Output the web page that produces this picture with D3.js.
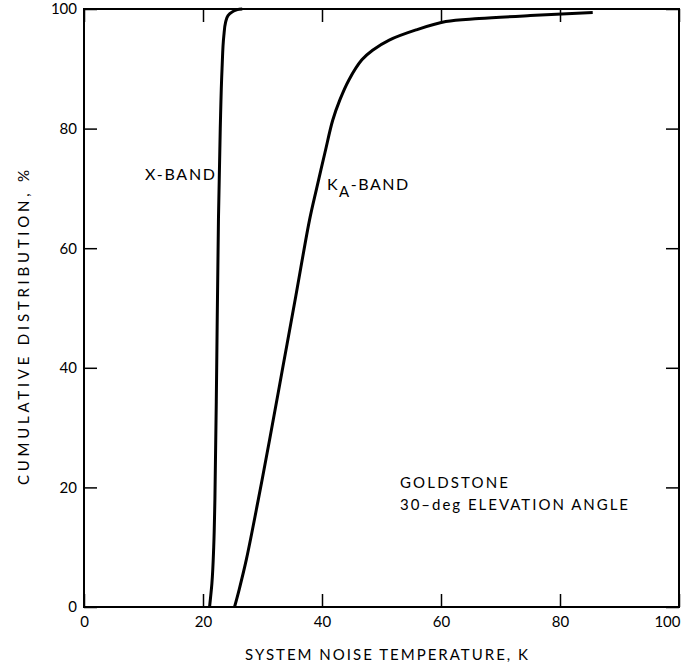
<!DOCTYPE html>
<html>
<head>
<meta charset="utf-8">
<script src="https://cdn.jsdelivr.net/npm/d3@7"></script>
<style>
  body { margin: 0; background: #fff; }
  svg { display: block; }
  text { font-family: Lato, "DejaVu Sans", sans-serif; fill: #000; }
</style>
</head>
<body>
<svg id="chart" width="681" height="668"></svg>
<script>
// tick values for both axes
var xTicks = [0, 20, 40, 60, 80, 100];
var yTicks = [0, 20, 40, 60, 80, 100];

// X-band: [system noise temperature K, cumulative %]
var xBand = [[21.1, 0], [21.5, 4], [21.8, 10], [22.0, 18], [22.3, 40], [22.6, 65],
  [22.9, 80], [23.2, 90], [23.5, 95.5], [23.8, 97.8], [24.2, 98.9], [24.9, 99.5],
  [25.8, 99.9], [26.6, 100]];

// Ka-band
var kaBand = [[25.3, 0], [26.1, 3], [27.3, 8], [29.3, 18], [31.2, 28], [33.4, 40],
  [35.6, 52], [37.9, 64.7], [39.1, 70], [40.5, 76], [41.8, 81.4], [43.0, 84.8],
  [44.5, 88.1], [46.7, 91.5], [48.5, 93.1], [51.3, 94.8], [55.8, 96.5], [60.8, 97.9],
  [66.4, 98.4], [75, 98.9], [85.5, 99.4]];

var margin = {top: 9, right: 2, bottom: 61, left: 84};
var width = 681 - margin.left - margin.right;
var height = 668 - margin.top - margin.bottom;

var svg = d3.select("#chart");
var g = svg.append("g").attr("transform", "translate(" + margin.left + "," + margin.top + ")");

var x = d3.scaleLinear().domain([0, 100]).range([0, width]);
var y = d3.scaleLinear().domain([0, 100]).range([height, 0]);

// axes, ticks pointing inward on all four sides
var xAxis = g.append("g").attr("class", "axis")
  .attr("transform", "translate(0," + height + ")")
  .call(d3.axisBottom(x).tickValues(xTicks).tickSize(-13).tickPadding(9));
g.append("g").attr("class", "axis")
  .call(d3.axisTop(x).tickValues(xTicks).tickSize(-13).tickFormat(""));
g.append("g").attr("class", "axis")
  .call(d3.axisLeft(y).tickValues(yTicks).tickSize(-13).tickPadding(7));
g.append("g").attr("class", "axis")
  .attr("transform", "translate(" + width + ",0)")
  .call(d3.axisRight(y).tickValues(yTicks).tickSize(-13).tickFormat(""));

g.selectAll(".axis .domain").remove();
g.selectAll(".axis line").attr("stroke", "#000").attr("stroke-width", 1.5);
g.selectAll(".axis text").style("font-size", "15px").style("font-family", "Lato, sans-serif");

// last x label sits at the page edge, keep it inside
xAxis.selectAll(".tick text")
  .filter(function(d){ return d === 100; })
  .attr("text-anchor", "end")
  .attr("x", 1);

// frame
g.append("rect")
  .attr("x", 0).attr("y", 0)
  .attr("width", width).attr("height", height)
  .attr("fill", "none")
  .attr("stroke", "#000")
  .attr("stroke-width", 2);

g.append("path").datum(xBand)
  .attr("d", d3.line()
    .x(function(d){ return x(d[0]); })
    .y(function(d){ return y(d[1]); })
    .curve(d3.curveMonotoneY))
  .attr("fill", "none").attr("stroke", "#000").attr("stroke-width", 3);

g.append("path").datum(kaBand)
  .attr("d", d3.line()
    .x(function(d){ return x(d[0]); })
    .y(function(d){ return y(d[1]); })
    .curve(d3.curveCatmullRom))
  .attr("fill", "none").attr("stroke", "#000").attr("stroke-width", 3);

// curve labels
g.append("text")
  .attr("x", 145 - margin.left).attr("y", 180 - margin.top)
  .style("font-size", "16px")
  .attr("textLength", 70).attr("lengthAdjust", "spacing")
  .text("X-BAND");

var ka = g.append("text")
  .attr("x", 327 - margin.left).attr("y", 190 - margin.top)
  .style("font-size", "16px")
  .style("letter-spacing", "1.5px");
ka.append("tspan").text("K");
ka.append("tspan").attr("dy", 7).style("font-size", "15px").text("A");
ka.append("tspan").attr("dy", -7).text("-BAND");

// site note
g.append("text")
  .attr("x", 400 - margin.left).attr("y", 488 - margin.top)
  .style("font-size", "15px")
  .attr("textLength", 108).attr("lengthAdjust", "spacing")
  .text("GOLDSTONE");
g.append("text")
  .attr("x", 400 - margin.left).attr("y", 510 - margin.top)
  .style("font-size", "15px")
  .attr("textLength", 228).attr("lengthAdjust", "spacing")
  .text("30\u2013deg ELEVATION ANGLE");

// axis titles
svg.append("text")
  .attr("x", 245).attr("y", 660)
  .style("font-size", "15px")
  .attr("textLength", 283).attr("lengthAdjust", "spacing")
  .text("SYSTEM NOISE TEMPERATURE, K");

svg.append("text")
  .attr("transform", "translate(29,485) rotate(-90)")
  .style("font-size", "15px")
  .attr("textLength", 315).attr("lengthAdjust", "spacing")
  .text("CUMULATIVE DISTRIBUTION, %");
</script>
</body>
</html>
